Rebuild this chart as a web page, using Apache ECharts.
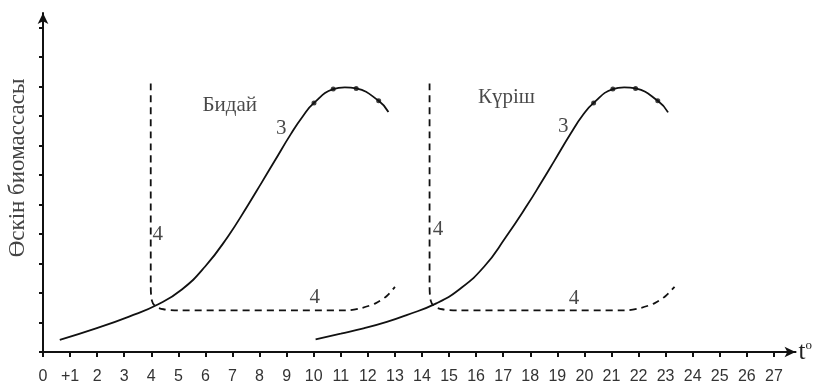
<!DOCTYPE html>
<html>
<head>
<meta charset="utf-8">
<script src="https://cdn.jsdelivr.net/npm/echarts@6/dist/echarts.min.js"></script>
<style>
html,body{margin:0;padding:0;background:#fff;}
#container1{width:815px;height:385px;}
</style>
</head>
<body>
<div id="container1"></div>
<script>
// tick labels on the x axis (temperature)
var xTickValues = [0,1,2,3,4,5,6,7,8,9,10,11,12,13,14,15,16,17,18,19,20,21,22,23,24,25,26,27];
var xTickLabels = ['0','+1','2','3','4','5','6','7','8','9','10','11','12','13','14','15','16','17','18','19','20','21','22','23','24','25','26','27'];
var yTickValues = [0,1,2,3,4,5,6,7,8,9,10,11];

// curve 3 - biomass growth (wheat / rice)
var wheatGrowth = [[0.62,0.41],[1.96,0.80],[3.18,1.20],[4.26,1.62],[5.13,2.12],[5.99,2.90],[6.84,3.93],[7.57,4.98],[8.06,5.72],[8.55,6.47],[9.16,7.40],[9.60,8.00],[10.01,8.45],[10.72,8.92],[11.15,8.98],[11.57,8.94],[12.40,8.52],[12.76,8.14]];
var wheatDots = [[10.01,8.45],[10.72,8.92],[11.57,8.94],[12.40,8.52]];
var riceGrowth = [[10.07,0.43],[11.00,0.62],[11.84,0.80],[12.70,1.02],[13.43,1.25],[14.53,1.65],[15.40,2.14],[16.30,2.90],[17.10,3.90],[17.90,5.00],[18.40,5.74],[18.90,6.50],[19.50,7.42],[19.93,8.02],[20.34,8.45],[21.05,8.92],[21.47,8.98],[21.89,8.94],[22.71,8.52],[23.09,8.13]];
var riceDots = [[20.34,8.45],[21.05,8.92],[21.89,8.94],[22.71,8.52]];

// curve 4 - dashed
var wheatDash = [[3.98,9.11],[3.98,2.30],[4.02,1.75],[4.15,1.55],[4.45,1.45],[5.00,1.41],[11.20,1.41],[11.80,1.50],[12.30,1.66],[12.70,1.90],[13.00,2.21]];
var riceDash = [[14.28,9.11],[14.28,2.30],[14.32,1.75],[14.45,1.55],[14.75,1.45],[15.30,1.41],[21.50,1.41],[22.10,1.50],[22.60,1.66],[23.00,1.90],[23.33,2.21]];

// text annotations [x, y, text]
var notes = [
  [6.90,8.37,'Бидай'],[8.80,7.58,'3'],[4.24,3.97,'4'],[10.04,1.85,'4'],
  [17.12,8.65,'Күріш'],[19.22,7.64,'3'],[14.59,4.14,'4'],[19.62,1.82,'4']
];

var myChart = echarts.init(document.getElementById('container1'));
initChart();

function initChart(){
var serif = '"Liberation Serif", "DejaVu Serif", serif';
var solid = {color:'#111', width:1.8};
var dashed = {color:'#111', width:1.8, type:[7,5]};

var option = {
    animation:false,
    grid:{left:43, right:12, top:13, bottom:33},
    xAxis:{
        type:'value', min:0, max:27.8,
        name:'{t|t}{o|o}', nameLocation:'end', nameGap:3,
        nameTextStyle:{rich:{
            t:{fontFamily:serif, fontSize:25, color:'#222'},
            o:{fontFamily:serif, fontSize:13, color:'#222', verticalAlign:'top', padding:[0,0,12,0]}
        }},
        axisLine:{show:true, symbol:['none','arrow'], symbolSize:[8,11], lineStyle:{color:'#111', width:2}},
        axisTick:{show:true, length:5, customValues:xTickValues, lineStyle:{color:'#111', width:2}},
        axisLabel:{customValues:xTickValues, margin:17, fontSize:16, color:'#333',
            fontFamily:'"Liberation Sans", Arial, sans-serif',
            formatter:function(v){ return xTickLabels[xTickValues.indexOf(Math.round(v))]; }},
        splitLine:{show:false}
    },
    yAxis:{
        type:'value', min:0, max:11.5,
        axisLine:{show:true, symbol:['none','arrow'], symbolSize:[8,11], lineStyle:{color:'#111', width:2}},
        axisTick:{show:true, length:4, customValues:yTickValues, lineStyle:{color:'#111', width:2}},
        axisLabel:{show:false},
        splitLine:{show:false}
    },
    graphic:[{
        type:'text', x:18, y:168, rotation:Math.PI/2,
        style:{text:'Өскін биомассасы', fontFamily:serif, fontSize:23, fill:'#444', align:'center', verticalAlign:'middle'}
    }],
    series:[
        {type:'line', data:wheatGrowth, smooth:0.5, showSymbol:false, lineStyle:solid},
        {type:'scatter', data:wheatDots, symbolSize:5, itemStyle:{color:'#111'}},
        {type:'line', data:wheatDash, smooth:0.3, showSymbol:false, lineStyle:dashed},
        {type:'line', data:riceGrowth, smooth:0.5, showSymbol:false, lineStyle:solid},
        {type:'scatter', data:riceDots, symbolSize:5, itemStyle:{color:'#111'}},
        {type:'line', data:riceDash, smooth:0.3, showSymbol:false, lineStyle:dashed},
        {type:'scatter', symbolSize:0,
         data:notes.map(function(n){ return {value:[n[0],n[1]], name:n[2]}; }),
         label:{show:true, position:'inside', formatter:'{b}', fontFamily:serif,
                fontSize:21, color:'#1a1a1a'}}
    ]
};
myChart.setOption(option);
}
</script>
</body>
</html>
